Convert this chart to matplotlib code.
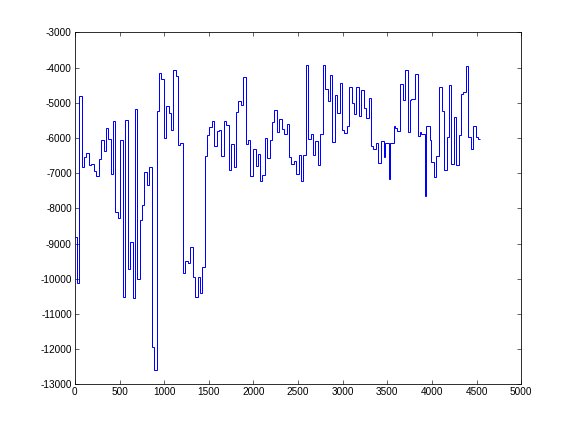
import numpy as np
import matplotlib
matplotlib.use('Agg')
import matplotlib.pyplot as plt

# left edge of every step (last entry closes the final step)
step_edges = [0, 26, 49, 82, 105, 127, 161, 183, 213, 236, 273, 295, 321, 348, 374, 407, 430, 452, 486, 508,
              538, 564, 590, 620, 646, 676, 699, 725, 755, 777, 807, 833, 867, 889, 916, 945, 968, 1001, 1024, 1050, 1076,
              1102, 1132, 1155, 1177, 1214, 1237, 1263, 1293, 1323, 1349, 1375, 1401, 1427, 1457, 1484, 1506, 1540, 1562, 1592, 1614, 1640,
              1674, 1697, 1730, 1753, 1779, 1809, 1831, 1865, 1887, 1921, 1943, 1966, 1999, 2025, 2055, 2078, 2100, 2134, 2156, 2190, 2212,
              2235, 2268, 2291, 2324, 2347, 2380, 2403, 2425, 2455, 2481, 2515, 2537, 2560, 2593, 2616, 2649, 2672, 2694, 2728, 2750, 2784,
              2806, 2832, 2862, 2885, 2918, 2941, 2974, 2997, 3019, 3053, 3075, 3109, 3131, 3154, 3187, 3210, 3243, 3266, 3292, 3322, 3344,
              3374, 3397, 3434, 3457, 3479, 3513, 3535, 3569, 3591, 3613, 3647, 3670, 3703, 3726, 3748, 3770, 3804, 3838, 3860, 3882,
              3916, 3938, 3972, 3994, 4028, 4050, 4073, 4107, 4129, 4163, 4185, 4208, 4241, 4264, 4297, 4320, 4342, 4376, 4398, 4432, 4454, 4488, 4510,
              4536]

step_values = [-8810, -10110, -4795, -6820, -6530, -6415, -6755, -6730, -6945, -7070, -6585, -6065, -6360, -5705, -6015, -7010, -5525, -8090, -8260, -6065,
               -10515, -5477, -9710, -8943, -10534, -5165, -9995, -8328, -7892, -6955, -7324, -6813, -11945, -12580, -5222, -4142, -4313, -5989, -5080, -5297, -5780,
               -4057, -4246, -6207, -6131, -9843, -9502, -9559, -9085, -9938, -10506, -9957, -10411, -9654, -6500, -5903, -5676, -5506, -6216, -5809, -5761, -6500,
               -5506, -5619, -6898, -6159, -6813, -5250, -4938, -5051, -4256, -6159, -6046, -7068, -6301, -6784, -6443, -7210, -7040, -5989, -6557, -6046, -5534,
               -5193, -5818, -5449, -5733, -5875, -5591, -6528, -6727, -6642, -7011, -6472, -7210, -6472, -3915, -6017, -5875, -6472, -6074, -6756, -5875, -3915,
               -4597, -4938, -4199, -6102, -4767, -5278, -4426, -5761, -5847, -5648, -4540, -4994, -5307, -4540, -5364, -4625, -5136, -5421, -4852, -6216, -6301,
               -6131, -6699, -6074, -6528, -6131, -7154, -6131, -5648, -5705, -5790, -4455, -4909, -4057, -5818, -4909, -4881, -4170, -5932, -5818, -5875,
               -7636, -5648, -6046, -6671, -7097, -6500, -4540, -5222, -6898, -5960, -4483, -6727, -5392, -6756, -5903, -4739, -4682, -3943, -5960, -6301, -5648, -5960, -6017]

x_ticks = list(range(0, 5001, 500))
y_ticks = list(range(-13000, -2999, 1000))

plt.rcParams['font.family'] = ['Liberation Sans', 'DejaVu Sans']
plt.rcParams['axes.unicode_minus'] = False


def plot_stairs(edges, values, out_name):
    """matlab-ish stairs plot"""
    fig = plt.figure(figsize=(8, 6), dpi=72)
    ax = fig.add_axes([0.13, 0.11, 0.775, 0.815])
    ax.stairs(values, edges, baseline=None, color=(0, 0, 1), linewidth=1)

    ax.set_xlim(0, 5000)
    ax.set_ylim(-13000, -3000)
    ax.set_xticks(x_ticks)
    ax.set_yticks(y_ticks)
    ax.set_xticklabels([str(t) for t in x_ticks])
    ax.set_yticklabels([str(t) for t in y_ticks])
    ax.tick_params(direction='in', top=True, right=True, length=4, width=0.6,
                   labelsize=10, pad=3)
    for sp in ax.spines.values():
        sp.set_linewidth(0.8)

    fig.savefig(out_name, dpi=72)
    plt.close(fig)


if __name__ == '__main__':
    plot_stairs(np.array(step_edges), np.array(step_values), 'out.png')
